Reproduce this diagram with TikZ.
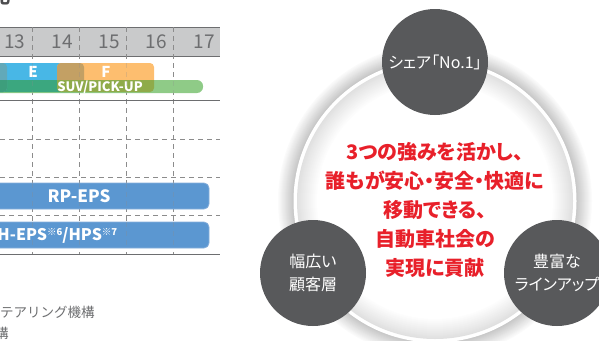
\documentclass[tikz,border=0pt]{standalone}
\usepackage{fontspec}
\setmainfont{Noto Sans CJK JP}
\newfontfamily\paltfont[RawFeature=+palt]{Noto Sans CJK JP}
\definecolor{headergray}{HTML}{C9CACB}
\definecolor{linegray}{HTML}{6D6E70}
\definecolor{dashgray}{HTML}{8C8C8C}
\definecolor{numgray}{HTML}{6D6E70}
\definecolor{Eblue}{HTML}{48B7E6}
\definecolor{Forange}{HTML}{FDBE6F}
\definecolor{EFmix}{HTML}{C3A064}
\definecolor{Glight}{HTML}{8FCB87}
\definecolor{Gteal}{HTML}{3BA77F}
\definecolor{Golive}{HTML}{8FAB4A}
\definecolor{Dtop}{HTML}{62A9B9}
\definecolor{Dbot}{HTML}{3D9E7C}
\definecolor{barblue}{HTML}{5B97D1}
\definecolor{baredge}{HTML}{86AEDA}
\definecolor{redtxt}{HTML}{E8202A}
\definecolor{circgray}{HTML}{58595B}
\definecolor{titlegray}{HTML}{4D4D4F}
\tikzset{
  dashline/.style={dashgray, line width=0.9pt, dash pattern=on 5pt off 4pt},
  solidline/.style={linegray, line width=1pt},
  yearlabel/.style={text=numgray, font=\fontsize{19}{19}\selectfont},
  barlabel/.style={text=white, font=\bfseries\fontsize{16}{16}\selectfont},
  bigdot/.style={circle, fill=circgray, minimum size=106pt, text=white, align=center, font=\paltfont\fontsize{16}{23}\selectfont},
}
\begin{document}
\begin{tikzpicture}[x=1pt,y=-1pt, every node/.style={inner sep=0pt, outer sep=0pt}]
\useasboundingbox (0,0) rectangle (599,340);
\clip (0,0) rectangle (599,340);

% ---------- left chart ----------
\node[text=titlegray, font=\bfseries\fontsize{18}{18}\selectfont] (ttl) at (1,-3) {化};

\fill[headergray] (0,27) rectangle (220,56);
\draw[solidline] (0,27) -- (220,27);
\draw[solidline] (0,56) -- (220,56);
\node[yearlabel] (y13) at (15,42) {13};
\node[yearlabel] (y14) at (62,42) {14};
\node[yearlabel] (y15) at (109,42) {15};
\node[yearlabel] (y16) at (156,42) {16};
\node[yearlabel] (y17) at (204,42) {17};

\foreach \x in {32.5,79.5,126.5,173.5} \draw[dashline] (\x,27) -- (\x,254);
\foreach \y in {139,177,215} \draw[dashline] (0,\y) -- (220,\y);
\draw[solidline] (0,100) -- (220,100);
\draw[solidline] (0,254) -- (220,254);

% row 1 bars
\fill[Eblue, rounded corners=4pt] (-60,63) rectangle (84,92);
\fill[Forange, rounded corners=4pt] (57,63) rectangle (154,92);
\begin{scope}
  \clip[rounded corners=4pt] (-60,63) rectangle (84,92);
  \fill[EFmix, rounded corners=4pt] (57,63) rectangle (154,92);
\end{scope}
\fill[Glight, rounded corners=6pt] (-60,80) rectangle (203,93);
\begin{scope}
  \clip[rounded corners=6pt] (-60,80) rectangle (203,93);
  \fill[Gteal, rounded corners=4pt] (-60,63) rectangle (84,92);
  \fill[Golive, rounded corners=4pt] (57,63) rectangle (154,92);
\end{scope}
\fill[Dtop, rounded corners=4pt] (-60,63) rectangle (7,92);
\begin{scope}
  \clip (-60,80) rectangle (7,93);
  \fill[Dbot, rounded corners=4pt] (-60,63) rectangle (7,92);
\end{scope}
\node[text=white, font=\bfseries\fontsize{15}{15}\selectfont] (lE) at (33,72) {E};
\node[text=white, font=\bfseries\fontsize{15}{15}\selectfont] (lF) at (106,72) {F};
\node[text=white, font=\bfseries\fontsize{13}{13}\selectfont] (lSUV) at (100,87) {SUV/PICK-UP};

% RP-EPS and H-EPS bars
\filldraw[fill=barblue, draw=baredge, line width=0.8pt, rounded corners=5pt] (-60,183) rectangle (209,209);
\filldraw[fill=barblue, draw=baredge, line width=0.8pt, rounded corners=5pt] (-60,222) rectangle (209,248);
\foreach \x in {32.5,79.5,126.5,173.5} {
  \draw[dashline, draw opacity=0.3] (\x,183) -- (\x,209);
  \draw[dashline, draw opacity=0.3] (\x,222) -- (\x,248);
  \draw[dashline, draw opacity=0.25] (\x,63) -- (\x,93);
}
\node[barlabel, font=\bfseries\fontsize{17}{17}\selectfont] (lRP) at (79,196) {RP-EPS};
\node[barlabel, anchor=west] (lH) at (-2.5,235) {H-EPS\raisebox{0.55ex}{\fontsize{9.5}{9.5}\selectfont ※6}/HPS\raisebox{0.55ex}{\fontsize{9.5}{9.5}\selectfont ※7}};

\node[anchor=west, text=numgray, font=\fontsize{13.5}{13.5}\selectfont] (note1) at (0,312) {テアリング機構};
\node[anchor=west, text=numgray, font=\fontsize{13.5}{13.5}\selectfont] (note2) at (-5,333) {構};

% ---------- right: ring ----------
\coordinate (cc) at (435,201);
\foreach \i in {16,...,1} {
  \pgfmathsetmacro\k{22*(17-\i)/16}
  \fill[black!\k] (cc) circle[radius=141+\i];
}
\fill[white] (cc) circle[radius=141.5];
\foreach \j in {0,...,20} {
  \pgfmathsetmacro\k{12*(20-\j)/20}
  \fill[black!\k] (cc) circle[radius=138-\j];
}
\fill[white] (cc) circle[radius=117.5];

\node[bigdot] (share) at (435,62) {シェア「No.1」};
\node[bigdot] (cust) at (313,273) {幅広い\\顧客層};
\node[bigdot] (line) at (557,273) {豊富な\\ラインアップ};

\node[text=redtxt, align=center, font=\paltfont\bfseries\fontsize{20}{28.8}\selectfont] (msg) at (435,210)
  {3つの強みを活かし、\\誰もが安心・安全・快適に\\移動できる、\\自動車社会の\\実現に貢献};
\end{tikzpicture}
\end{document}
